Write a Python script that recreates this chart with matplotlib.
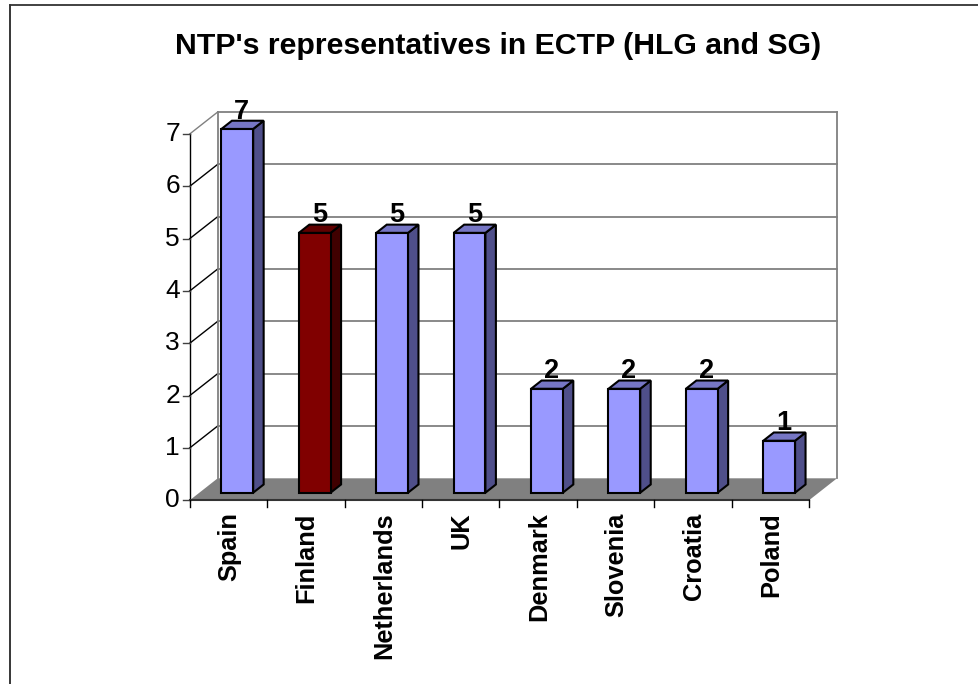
import matplotlib
matplotlib.use("Agg")
import matplotlib.pyplot as plt
from matplotlib.lines import Line2D
from matplotlib.patches import Polygon

plt.rcParams['font.family'] = ['Liberation Sans', 'DejaVu Sans']

categories = ["Spain", "Finland", "Netherlands", "UK", "Denmark", "Slovenia", "Croatia", "Poland"]
values = [7, 5, 5, 5, 2, 2, 2, 1]
y_ticks = [0, 1, 2, 3, 4, 5, 6, 7]
title = "NTP's representatives in ECTP (HLG and SG)"

W, H = 979, 684
fig = plt.figure(figsize=(W / 100, H / 100), dpi=100)

# plot box in pixels, data coords are categories / values
x0, x1 = 189.7, 809.0
y0, y1 = 500.3, 134.0
ax = fig.add_axes([x0 / W, 1 - y0 / H, (x1 - x0) / W, (y0 - y1) / H])
ax.set_xlim(0, 8)
ax.set_ylim(0, 7)
ax.axis("off")

n = len(categories)
wall_dx = 28 / ((x1 - x0) / n)
wall_dy = 22 / ((y0 - y1) / 7)


def pr(x, y, d):
    # oblique projection, d=0 front, d=1 back wall
    return (x + d * wall_dx, y + d * wall_dy)


def poly(pts, **kw):
    ax.add_patch(Polygon(pts, closed=True, clip_on=False, **kw))


# frame: only top and left show, it runs off the picture
fr = fig.transFigure
fig.add_artist(Line2D([9.5 / W, 9.5 / W], [0, 1 - 5 / H], transform=fr, color="black", lw=1.1))
fig.add_artist(Line2D([9.5 / W, 1], [1 - 5 / H, 1 - 5 / H], transform=fr, color="#333333", lw=1.3))

# floor and walls
poly([pr(0, 0, 0), pr(n, 0, 0), pr(n, 0, 1), pr(0, 0, 1)], fc="#808080", ec="none", zorder=1)
for t in y_ticks[1:]:
    ax.plot(*zip(pr(0, t, 1), pr(n, t, 1)), color="#808080", lw=1.3, clip_on=False, zorder=1)
    ax.plot(*zip(pr(0, t, 0), pr(0, t, 1)), color="black" if t < 7 else "#808080", lw=1, clip_on=False, zorder=1)
ax.plot(*zip(pr(0, 0, 1), pr(0, 7, 1)), color="#808080", lw=1.3, clip_on=False, zorder=1)
ax.plot(*zip(pr(n, 0, 1), pr(n, 7, 1)), color="#808080", lw=1.3, clip_on=False, zorder=1)

# axes lines and ticks
ax.plot([0, 0], [0, 7], color="black", lw=1, clip_on=False, zorder=2)
ax.plot([0, n], [0, 0], color="#333333", lw=1.5, clip_on=False, zorder=2)
for t in y_ticks:
    ax.plot([-0.09, 0], [t, t], color="#404040", lw=1, clip_on=False, zorder=2)
    ax.text(-0.125, t, str(t), ha="right", va="center", fontsize=19, color="black")
for i in range(n + 1):
    ax.plot([i, i], [0, -0.12], color="black", lw=1, clip_on=False, zorder=2)

# bars, drawn a touch shorter than the wall scale like the original
bw = 0.41
d1, d2 = 0.345, 0.72
shift = -0.01
bar_scale = 0.993
for i, (c, v) in enumerate(zip(categories, values)):
    if c == "Finland":
        front, side, top = "#800000", "#400000", "#600000"
    else:
        front, side, top = "#9999FF", "#4F4F8A", "#7676C4"
    xa = i + 0.5 - bw / 2 + shift
    xb = xa + bw
    h = v * bar_scale
    poly([pr(xb, 0, d1), pr(xb, 0, d2), pr(xb, h, d2), pr(xb, h, d1)], fc=side, ec="black", lw=1.5, zorder=3)
    poly([pr(xa, h, d1), pr(xb, h, d1), pr(xb, h, d2), pr(xa, h, d2)], fc=top, ec="black", lw=1.5, zorder=3)
    poly([pr(xa, 0, d1), pr(xb, 0, d1), pr(xb, h, d1), pr(xa, h, d1)], fc=front, ec="black", lw=1.5, zorder=4)
    lx, ly = pr(i + 0.5, h, d1)
    ax.text(lx + 0.05, ly + 0.2, str(v), ha="center", va="baseline", fontsize=19.5, fontweight="bold", zorder=5)
    ax.text(i + 0.51, -0.23, c, rotation=90, ha="center", va="top", fontsize=18.3, fontweight="bold")

fig.text(498 / W, 1 - 46 / H, title, ha="center", va="center", fontsize=21.8, fontweight="bold")

fig.savefig("out.png", dpi=100)
